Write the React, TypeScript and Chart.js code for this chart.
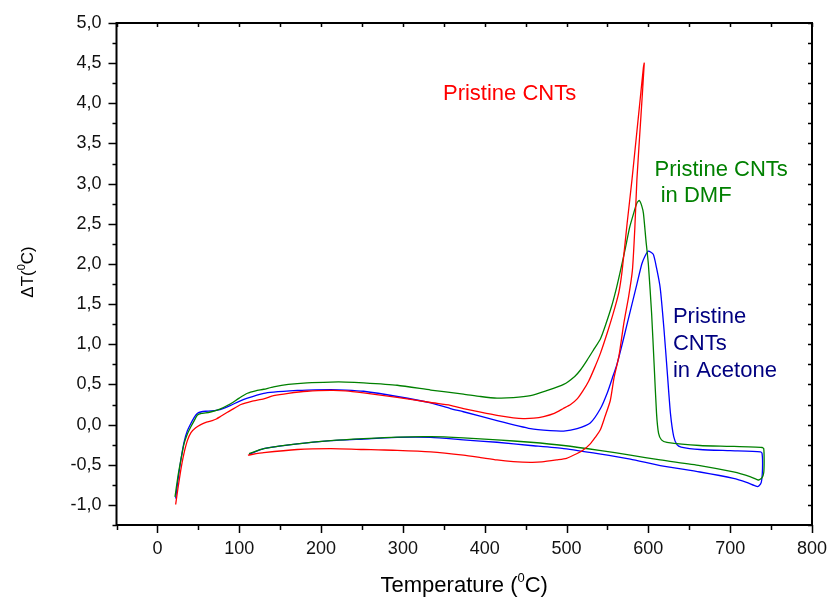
import React, { useEffect, useRef } from 'react';
import { Chart, registerables } from 'chart.js';

Chart.register(...registerables);

// ---------- data (temperature in °C, ΔT in °C) ----------
const redT = [
  22.3, 25, 28.5, 32, 36.6, 41, 46.8, 53, 60, 67, 72, 77, 85, 90, 102, 115, 130, 142, 160, 183,
  212, 230, 252, 293, 334, 358, 374, 395, 415, 435, 447, 460, 472, 485, 496, 505, 513, 520, 527,
  534, 541.5, 550, 557.5, 564, 568, 574, 580, 585, 590, 594, 595,
  591, 586, 583.5, 580.5, 576, 570, 564, 558, 553.5, 547, 541.5, 535, 529, 520, 513, 500, 488, 470,
  456, 435, 415, 395, 374, 334, 293, 270, 252, 212, 171, 130, 110.6,
];
const redDT = [
  -0.995, -0.8, -0.57, -0.38, -0.2, -0.1, -0.04, 0.0, 0.03, 0.05, 0.07, 0.1, 0.15, 0.18, 0.25, 0.29,
  0.32, 0.36, 0.39, 0.415, 0.425, 0.42, 0.395, 0.34, 0.275, 0.24, 0.2, 0.155, 0.115, 0.085, 0.075,
  0.08, 0.1, 0.14, 0.2, 0.25, 0.32, 0.42, 0.54, 0.7, 0.89, 1.15, 1.4, 1.65, 1.92, 2.5, 3.05, 3.55,
  4.05, 4.45, 4.5,
  3.85, 3.05, 2.45, 1.92, 1.6, 1.26, 0.85, 0.58, 0.3, 0.1, -0.06, -0.16, -0.24, -0.32, -0.36, -0.42,
  -0.44, -0.465, -0.47, -0.46, -0.44, -0.41, -0.38, -0.34, -0.32, -0.315, -0.31, -0.3, -0.31, -0.35,
  -0.38,
];

const greenT = [
  21.5, 25, 28.5, 32.5, 36.5, 40.7, 45, 49, 54, 59, 66, 73, 80, 89.5, 100, 110, 120, 130, 142, 160,
  183, 212, 230, 252, 293, 334, 350, 374, 395, 415, 435, 456, 475, 496.5, 510, 517, 525, 533, 541.5,
  548, 555, 561, 566, 572, 577, 582, 586, 589, 592, 594, 597, 600, 604, 607, 610, 612.5, 616, 622.7,
  663, 700, 739, 741, 741.5, 741, 739, 735, 725, 704, 663, 614.5, 578, 540, 496.5, 456, 415, 374,
  334, 293, 252, 212, 171, 130, 112,
];
const greenDT = [
  -0.9, -0.65, -0.45, -0.24, -0.12, -0.03, 0.05, 0.12, 0.14, 0.145, 0.16, 0.18, 0.21, 0.26, 0.33,
  0.39, 0.42, 0.44, 0.47, 0.5, 0.52, 0.53, 0.53, 0.52, 0.49, 0.43, 0.41, 0.38, 0.35, 0.33, 0.335,
  0.36, 0.42, 0.5, 0.6, 0.68, 0.8, 0.93, 1.07, 1.25, 1.47, 1.7, 1.92, 2.2, 2.45, 2.63, 2.76, 2.79,
  2.72, 2.63, 2.3, 2.0, 1.38, 0.76, 0.14, -0.11, -0.19, -0.22, -0.26, -0.27, -0.285, -0.3, -0.45,
  -0.6, -0.66, -0.69, -0.65, -0.59, -0.51, -0.44, -0.38, -0.32, -0.26, -0.22, -0.19, -0.165, -0.15,
  -0.155, -0.175, -0.2, -0.24, -0.3, -0.36,
];

const blueT = [
  22.3, 25, 28.5, 32.5, 36.5, 40.7, 45, 49, 54, 59, 66, 73, 80, 89.5, 100, 110, 130, 142, 171, 183,
  212, 230, 252, 293, 334, 358, 374, 415, 456, 480, 496.5, 513, 529, 541.5, 550, 556, 561.6, 568,
  574, 580, 586, 592, 596, 600, 606, 610, 614.5, 619, 623.5, 627, 631, 635, 640, 663, 700, 737, 739,
  739.5, 738, 735, 732.5, 720, 704, 663, 614.5, 578, 540, 496.5, 456, 415, 374, 334, 293, 252, 212,
  171, 130, 112,
];
const blueDT = [
  -0.92, -0.7, -0.45, -0.22, -0.08, 0.01, 0.09, 0.14, 0.16, 0.166, 0.17, 0.18, 0.2, 0.24, 0.29, 0.33,
  0.39, 0.405, 0.425, 0.43, 0.435, 0.43, 0.415, 0.35, 0.27, 0.2, 0.16, 0.05, -0.05, -0.075, -0.08,
  -0.05, 0.02, 0.2, 0.4, 0.58, 0.75, 1.0, 1.25, 1.5, 1.75, 2.0, 2.1, 2.16, 2.12, 1.95, 1.7, 1.2, 0.6,
  0.14, -0.15, -0.25, -0.28, -0.31, -0.325, -0.34, -0.36, -0.55, -0.72, -0.765, -0.77, -0.72, -0.67,
  -0.59, -0.51, -0.43, -0.365, -0.3, -0.26, -0.22, -0.19, -0.16, -0.16, -0.18, -0.2, -0.24, -0.3,
  -0.37,
];

const xTickValues = [0, 100, 200, 300, 400, 500, 600, 700, 800];
const yTickValues = [-1.0, -0.5, 0.0, 0.5, 1.0, 1.5, 2.0, 2.5, 3.0, 3.5, 4.0, 4.5, 5.0];

const seriesNames = ['Pristine CNTs', 'Pristine CNTs in DMF', 'Pristine CNTs in Acetone'];

// ---------- styling / layout ----------
const FONT = '"Liberation Sans", Arial, Helvetica, sans-serif';
const X_MIN = -50;
const X_MAX = 800;
const Y_MIN = -1.25;
const Y_MAX = 5.0;

const annotations = [
  { lines: ['Pristine CNTs'], x: 349, y: 4.04, color: '#ff0000' },
  { lines: ['Pristine CNTs', ' in DMF'], x: 607.6, y: 3.1, color: '#008000' },
  { lines: ['Pristine', 'CNTs', 'in Acetone'], x: 630, y: 1.26, color: '#000080' },
];

const pts = (xs: number[], ys: number[]) => xs.map((x, i) => ({ x, y: ys[i] }));

const framePlugin = {
  id: 'frameTicks',
  afterDraw(chart: any) {
    const { ctx, chartArea: a, scales } = chart;
    const xs = scales.x;
    const ys = scales.y;
    ctx.save();
    ctx.strokeStyle = '#000';
    ctx.lineWidth = 1.5;
    ctx.beginPath();
    // x ticks every 50
    for (let v = X_MIN; v <= X_MAX + 0.001; v += 50) {
      const px = Math.round(xs.getPixelForValue(v)) + 0.5;
      const major = Math.abs(v % 100) < 0.001;
      ctx.moveTo(px, a.bottom);
      ctx.lineTo(px, a.bottom + (major ? 8 : 5));
      ctx.moveTo(px, a.top);
      ctx.lineTo(px, a.top + 4);
    }
    // y ticks every 0.25
    for (let v = Y_MIN; v <= Y_MAX + 0.001; v += 0.25) {
      const py = Math.round(ys.getPixelForValue(v)) + 0.5;
      const major = Math.abs(v * 2 - Math.round(v * 2)) < 0.001;
      ctx.moveTo(a.left, py);
      ctx.lineTo(a.left - (major ? 8 : 4), py);
      ctx.moveTo(a.right, py);
      ctx.lineTo(a.right - 4, py);
    }
    ctx.stroke();
    // frame
    ctx.lineWidth = 2;
    ctx.strokeRect(a.left, a.top, a.right - a.left, a.bottom - a.top);

    // annotations
    ctx.font = `22px ${FONT}`;
    ctx.textAlign = 'left';
    ctx.textBaseline = 'alphabetic';
    for (const an of annotations) {
      const px = xs.getPixelForValue(an.x);
      const py = ys.getPixelForValue(an.y);
      ctx.fillStyle = an.color;
      an.lines.forEach((t, i) => ctx.fillText(t, px, py + i * 26.7));
    }

    // x axis title: Temperature (⁰C)
    ctx.fillStyle = '#000';
    const big = `22px ${FONT}`;
    const small = `13px ${FONT}`;
    const p1 = 'Temperature (';
    const sup = '0';
    const p2 = 'C)';
    ctx.font = big;
    const w1 = ctx.measureText(p1).width;
    const w3 = ctx.measureText(p2).width;
    ctx.font = small;
    const w2 = ctx.measureText(sup).width;
    const total = w1 + w2 + w3;
    let sx = (a.left + a.right) / 2 - total / 2;
    const by = 591.5;
    ctx.font = big;
    ctx.fillText(p1, sx, by);
    sx += w1;
    ctx.font = small;
    ctx.fillText(sup, sx, by - 10);
    sx += w2;
    ctx.font = big;
    ctx.fillText(p2, sx, by);

    // y axis title: ΔT(⁰C)
    ctx.save();
    ctx.translate(33, 272);
    ctx.rotate(-Math.PI / 2);
    const ybig = `17px ${FONT}`;
    const ysmall = `11px ${FONT}`;
    const q1 = '\u0394T(';
    const q2 = 'C)';
    ctx.font = ybig;
    const v1 = ctx.measureText(q1).width;
    const v3 = ctx.measureText(q2).width;
    ctx.font = ysmall;
    const v2 = ctx.measureText(sup).width;
    let tx = -(v1 + v2 + v3) / 2;
    ctx.font = ybig;
    ctx.fillText(q1, tx, 0);
    tx += v1;
    ctx.font = ysmall;
    ctx.fillText(sup, tx, -8);
    tx += v2;
    ctx.font = ybig;
    ctx.fillText(q2, tx, 0);
    ctx.restore();

    ctx.restore();
  },
};

export default function App() {
  const ref = useRef<HTMLCanvasElement | null>(null);

  useEffect(() => {
    document.body.style.margin = '0';
    const canvas = ref.current;
    if (!canvas) return;
    const line = (data: any, color: string, label: string) => ({
      label,
      data,
      borderColor: color,
      backgroundColor: color,
      borderWidth: 1.3,
      pointRadius: 0,
      showLine: true,
      fill: false,
      tension: 0.2,
    });
    const chart = new Chart(canvas, {
      type: 'scatter',
      data: {
        datasets: [
          line(pts(redT, redDT), '#ff0000', seriesNames[0]),
          line(pts(greenT, greenDT), '#008000', seriesNames[1]),
          line(pts(blueT, blueDT), '#0000ff', seriesNames[2]),
        ],
      },
      options: {
        animation: false,
        responsive: false,
        events: [],
        layout: { padding: { top: 23, right: 15, left: 0, bottom: 0 } },
        plugins: { legend: { display: false }, tooltip: { enabled: false } },
        scales: {
          x: {
            type: 'linear',
            min: X_MIN,
            max: X_MAX,
            grid: { display: false, drawTicks: false },
            border: { display: false },
            afterBuildTicks: (s: any) => {
              s.ticks = xTickValues.map((value) => ({ value }));
            },
            afterFit: (s: any) => {
              s.height = 74;
              s.paddingLeft = 0;
              s.paddingRight = 0;
            },
            ticks: {
              padding: 13,
              color: '#111',
              font: { family: FONT, size: 18 },
              maxRotation: 0,
              autoSkip: false,
              callback: (v: any) => String(v),
            },
          },
          y: {
            type: 'linear',
            min: Y_MIN,
            max: Y_MAX,
            grid: { display: false, drawTicks: false },
            border: { display: false },
            afterBuildTicks: (s: any) => {
              s.ticks = yTickValues.map((value) => ({ value }));
            },
            afterFit: (s: any) => {
              s.width = 116.5;
              s.paddingTop = 0;
              s.paddingBottom = 0;
            },
            ticks: {
              padding: 15,
              color: '#111',
              font: { family: FONT, size: 18 },
              autoSkip: false,
              callback: (v: any) => Number(v).toFixed(1).replace('.', ','),
            },
          },
        },
      },
      plugins: [framePlugin],
    });
    return () => chart.destroy();
  }, []);

  return (
    <div style={{ width: 827, height: 599 }}>
      <canvas ref={ref} width={827} height={599} style={{ display: 'block' }} />
    </div>
  );
}
